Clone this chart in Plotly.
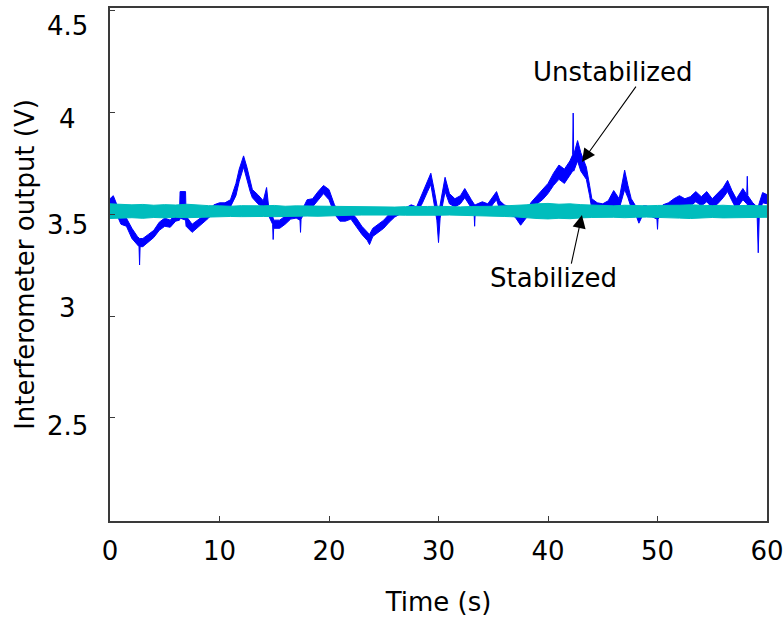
import plotly.graph_objects as go

# ---------------- data ----------------
x_ticks = [0, 10, 20, 30, 40, 50, 60]
x_tick_labels = ["0", "10", "20", "30", "40", "50", "60"]
y_ticks = [2.5, 3, 3.5, 4, 4.5]
y_tick_labels = ["2.5", "3", "3.5", "4", "4.5"]

# Unstabilized signal: time (s) with upper / lower envelope of the noisy trace (V)
blue_t = [0, 0.3, 0.6, 1.0, 1.5, 2.0, 2.5, 2.65, 2.7, 2.75, 3.0, 3.5, 4.0, 4.5, 5.0, 5.5, 6.0,
          6.35, 6.4, 6.9, 6.95, 7.5, 8.0, 8.5, 9.0, 9.5, 10.0, 10.5, 11.0,
          11.5, 11.8, 12.2, 12.5, 12.8, 13.0, 13.5, 14.0, 14.3, 14.5, 14.85, 14.9, 14.95, 15.5, 16.0, 16.5, 17.0, 17.35, 17.4, 17.45,
          18.0, 18.5, 19.0, 19.5, 20.0, 20.5, 21.0, 21.5, 22.0, 22.5, 23.0, 23.5, 23.7, 24.0,
          24.5, 25.0, 25.5, 26.0, 26.5, 27.0, 27.5, 28.0, 28.5, 29.0, 29.3, 29.6, 29.85, 30.0, 30.15,
          30.6, 31.0, 31.5, 32.0, 32.4, 33.0, 33.25, 33.3, 33.35, 34.0, 34.5, 35.0, 35.3, 35.6, 36.0, 36.5, 37.0,
          37.5, 38.0, 38.5, 39.0, 39.5, 40.0, 40.5, 41.0, 41.5, 42.0, 42.25, 42.3, 42.35, 42.7, 43.0, 43.5, 43.8, 44.0,
          44.5, 45.0, 45.5, 46.0, 46.5, 47.0, 47.3, 47.6, 48.0, 48.3, 48.7, 49.0, 49.5, 49.95, 50.0, 50.05,
          50.5, 51.0, 51.5, 52.0, 52.5, 53.0, 53.5, 54.0, 54.5, 55.0, 55.5, 56.0, 56.4, 56.8, 57.2, 57.8, 58.15, 58.2, 58.25, 58.7, 59.1, 59.2, 59.3, 59.6, 60.0]
blue_hi = [3.575, 3.59, 3.55, 3.49, 3.48, 3.43, 3.39, 3.38, 3.38, 3.38, 3.38, 3.40, 3.42, 3.46, 3.48, 3.47, 3.50,
           3.51, 3.61, 3.61, 3.49, 3.45, 3.47, 3.49, 3.52, 3.545, 3.555, 3.555, 3.57,
           3.65, 3.72, 3.785, 3.73, 3.66, 3.62, 3.595, 3.565, 3.63, 3.53, 3.49, 3.48, 3.47, 3.47, 3.49, 3.51, 3.52, 3.51, 3.51, 3.51,
           3.57, 3.575, 3.61, 3.64, 3.62, 3.545, 3.50, 3.50, 3.51, 3.48, 3.44, 3.41, 3.40, 3.43,
           3.45, 3.47, 3.50, 3.515, 3.53, 3.53, 3.545, 3.535, 3.60, 3.66, 3.70, 3.62, 3.53, 3.50, 3.545,
           3.68, 3.60, 3.575, 3.59, 3.625, 3.57, 3.545, 3.545, 3.545, 3.56, 3.55, 3.59, 3.61, 3.565, 3.545, 3.535, 3.525,
           3.49, 3.52, 3.56, 3.59, 3.62, 3.65, 3.70, 3.74, 3.72, 3.76, 3.79, 3.995, 3.79, 3.86, 3.80, 3.73, 3.64, 3.575,
           3.555, 3.55, 3.565, 3.615, 3.575, 3.715, 3.64, 3.575, 3.54, 3.52, 3.54, 3.54, 3.525, 3.515, 3.51, 3.515,
           3.545, 3.555, 3.575, 3.59, 3.575, 3.585, 3.61, 3.585, 3.61, 3.575, 3.60, 3.63, 3.665, 3.615, 3.575, 3.625, 3.595, 3.685, 3.59, 3.555, 3.535, 3.535, 3.555, 3.605, 3.595]
blue_lo = [3.53, 3.535, 3.50, 3.45, 3.44, 3.38, 3.35, 3.34, 3.25, 3.34, 3.34, 3.36, 3.385, 3.42, 3.44, 3.435, 3.465,
           3.47, 3.48, 3.47, 3.44, 3.41, 3.43, 3.455, 3.48, 3.51, 3.52, 3.52, 3.535,
           3.59, 3.66, 3.73, 3.67, 3.61, 3.58, 3.55, 3.53, 3.525, 3.49, 3.45, 3.375, 3.43, 3.43, 3.45, 3.475, 3.48, 3.47, 3.41, 3.475,
           3.53, 3.535, 3.57, 3.60, 3.57, 3.50, 3.465, 3.465, 3.475, 3.44, 3.40, 3.37, 3.35, 3.39,
           3.41, 3.43, 3.46, 3.485, 3.50, 3.50, 3.515, 3.505, 3.55, 3.61, 3.645, 3.56, 3.47, 3.36, 3.48,
           3.61, 3.55, 3.535, 3.55, 3.58, 3.53, 3.505, 3.44, 3.505, 3.525, 3.51, 3.55, 3.57, 3.52, 3.505, 3.495, 3.485,
           3.445, 3.48, 3.52, 3.55, 3.57, 3.60, 3.64, 3.67, 3.65, 3.69, 3.71, 3.72, 3.71, 3.76, 3.71, 3.67, 3.59, 3.525,
           3.515, 3.51, 3.525, 3.54, 3.525, 3.62, 3.58, 3.53, 3.50, 3.455, 3.50, 3.50, 3.485, 3.475, 3.425, 3.475,
           3.505, 3.515, 3.53, 3.54, 3.53, 3.54, 3.56, 3.54, 3.56, 3.53, 3.55, 3.58, 3.61, 3.565, 3.525, 3.57, 3.55, 3.55, 3.53, 3.505, 3.49, 3.31, 3.505, 3.555, 3.55]

# Stabilized signal: time (s) with upper / lower envelope of the noise band (V)
cyan_t = list(range(0, 61))
cyan_hi = [3.550, 3.548, 3.545, 3.547, 3.543, 3.546, 3.544, 3.548, 3.543, 3.541,
           3.540, 3.538, 3.541, 3.539, 3.540, 3.542, 3.538, 3.540, 3.539, 3.541,
           3.540, 3.537, 3.536, 3.534, 3.535, 3.533, 3.534, 3.536, 3.535, 3.537,
           3.538, 3.536, 3.535, 3.537, 3.536, 3.538, 3.540, 3.542, 3.545, 3.550,
           3.552, 3.548, 3.550, 3.546, 3.544, 3.542, 3.540, 3.543, 3.541, 3.540,
           3.542, 3.541, 3.543, 3.545, 3.542, 3.541, 3.543, 3.540, 3.542, 3.541, 3.540]
cyan_lo = [3.478, 3.480, 3.482, 3.479, 3.483, 3.481, 3.484, 3.482, 3.485, 3.487,
           3.486, 3.488, 3.487, 3.486, 3.488, 3.487, 3.489, 3.488, 3.490, 3.489,
           3.490, 3.492, 3.494, 3.495, 3.494, 3.496, 3.495, 3.494, 3.495, 3.493,
           3.494, 3.495, 3.494, 3.493, 3.492, 3.490, 3.488, 3.486, 3.483, 3.478,
           3.476, 3.479, 3.477, 3.481, 3.483, 3.485, 3.484, 3.482, 3.484, 3.485,
           3.483, 3.482, 3.480, 3.478, 3.481, 3.483, 3.481, 3.484, 3.482, 3.483, 3.484]

assert len(blue_t) == len(blue_hi) == len(blue_lo)
assert len(cyan_t) == len(cyan_hi) == len(cyan_lo)

# ---------------- styling ----------------
BLUE = "#0000FF"
CYAN = "#00BDBD"
AXIS = "#3a3a3a"
FONT = "DejaVu Sans, Liberation Sans, Arial, sans-serif"
FS = 26
# vertical nudges (px) of the y tick labels as placed in the reference
y_label_shift = [-8, 8, -11, -7, -16]
Y_LABEL_X = -0.064  # paper x of the (centred) y tick labels

fig = go.Figure()
fig.add_trace(go.Scatter(
    x=blue_t + blue_t[::-1], y=blue_hi + blue_lo[::-1],
    fill="toself", fillcolor=BLUE, mode="lines",
    line=dict(color=BLUE, width=1), hoverinfo="skip", showlegend=False))
fig.add_trace(go.Scatter(
    x=cyan_t + cyan_t[::-1], y=cyan_hi + cyan_lo[::-1],
    fill="toself", fillcolor=CYAN, mode="lines",
    line=dict(color=CYAN, width=1), hoverinfo="skip", showlegend=False))

axis_common = dict(showgrid=False, zeroline=False, showline=True, linecolor=AXIS,
                   linewidth=1.5, mirror=True, ticks="inside", ticklen=5,
                   tickcolor=AXIS, tickwidth=1.2, automargin=False,
                   tickfont=dict(family=FONT, size=FS, color="black"))

fig.update_xaxes(range=[0, 60], tickvals=x_ticks, ticktext=x_tick_labels,
                 ticklabelstandoff=6,
                 title=dict(text="Time (s)", font=dict(family=FONT, size=FS, color="black"), standoff=28),
                 **axis_common)
fig.update_yaxes(range=[1.995, 4.51], tickvals=y_ticks, showticklabels=False,
                 title=dict(text="Interferometer output (V)", font=dict(family=FONT, size=FS, color="black"), standoff=66),
                 **axis_common)

# y tick labels (centred, as in the reference)
for val, lab, dy in zip(y_ticks, y_tick_labels, y_label_shift):
    fig.add_annotation(xref="paper", x=Y_LABEL_X, xanchor="center", yref="y", y=val,
                       yshift=dy, text=lab, showarrow=False,
                       font=dict(family=FONT, size=FS, color="black"))

# annotations (label text + arrows)
ann_font = dict(family=FONT, size=FS, color="black")
fig.add_annotation(x=45.9, y=4.196, xref="x", yref="y", text="Unstabilized",
                   showarrow=False, font=ann_font)
fig.add_annotation(x=43.1, y=3.755, ax=48.13, ay=4.132, xref="x", yref="y",
                   axref="x", ayref="y", text="", showarrow=True,
                   arrowhead=2, arrowsize=2.4, arrowwidth=1.1, arrowcolor="black")
fig.add_annotation(x=40.46, y=3.186, xref="x", yref="y", text="Stabilized",
                   showarrow=False, font=ann_font)
fig.add_annotation(x=43.1, y=3.495, ax=42.1, ay=3.25, xref="x", yref="y",
                   axref="x", ayref="y", text="", showarrow=True,
                   arrowhead=2, arrowsize=2.4, arrowwidth=1.1, arrowcolor="black")

fig.update_layout(width=784, height=622,
                  margin=dict(l=110, r=17, t=8, b=101, autoexpand=False),
                  paper_bgcolor="white", plot_bgcolor="white",
                  font=dict(family=FONT, size=FS, color="black"))

# remove the browser's default 8px body margin so the figure fills the window
fig.write_html("out.html", config={"displayModeBar": False},
               post_script="document.body.style.margin='0';")
